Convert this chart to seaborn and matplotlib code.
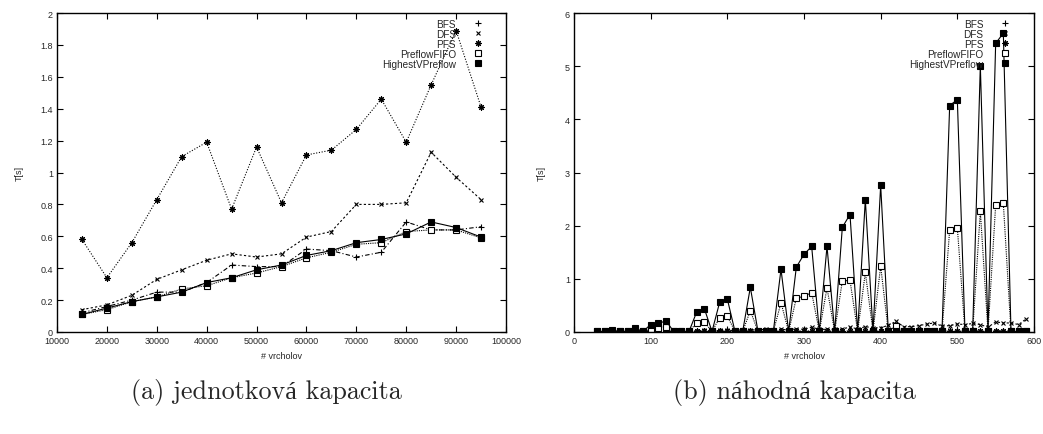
import numpy as np
import pandas as pd
import seaborn as sns
import matplotlib
matplotlib.use("Agg")
import matplotlib.pyplot as plt
from matplotlib.lines import Line2D

# (a) jednotkova kapacita
x_a = [15000, 20000, 25000, 30000, 35000, 40000, 45000, 50000, 55000,
       60000, 65000, 70000, 75000, 80000, 85000, 90000, 95000]
bfs_a = [0.12, 0.16, 0.20, 0.25, 0.25, 0.31, 0.42, 0.41, 0.41,
         0.52, 0.51, 0.47, 0.50, 0.69, 0.64, 0.64, 0.66]
dfs_a = [0.14, 0.17, 0.23, 0.33, 0.39, 0.45, 0.49, 0.47, 0.49,
         0.595, 0.63, 0.80, 0.80, 0.81, 1.127, 0.97, 0.83]
pfs_a = [0.58, 0.34, 0.56, 0.83, 1.10, 1.19, 0.77, 1.16, 0.81,
         1.11, 1.14, 1.27, 1.46, 1.19, 1.55, 1.89, 1.41]
fifo_a = [0.11, 0.14, 0.19, 0.22, 0.27, 0.29, 0.34, 0.37, 0.41,
          0.465, 0.50, 0.55, 0.56, 0.63, 0.64, 0.64, 0.59]
hvp_a = [0.11, 0.15, 0.19, 0.22, 0.25, 0.31, 0.34, 0.39, 0.42,
         0.48, 0.51, 0.56, 0.58, 0.615, 0.69, 0.655, 0.595]

# (b) nahodna kapacita
x_b = [30, 40, 50, 60, 70, 80, 90, 100, 110, 120, 130, 140, 150, 160, 170,
       180, 190, 200, 210, 220, 230, 240, 250, 260, 270, 280, 290, 300, 310,
       320, 330, 340, 350, 360, 370, 380, 390, 400, 410, 420, 430, 440, 450,
       460, 470, 480, 490, 500, 510, 520, 530, 540, 550, 560, 570, 580, 590]
bfs_b = [0.01, 0.01, 0.01, 0.01, 0.01, 0.01, 0.01,
         0.01, 0.01, 0.01, 0.01, 0.01, 0.01,
         0.01, 0.01, 0.01, 0.01, 0.01,
         0.01, 0.01, 0.01, 0.01, 0.01, 0.01,
         0.01, 0.01, 0.01, 0.01,
         0.01, 0.01, 0.01, 0.01, 0.01, 0.01, 0.01, 0.01, 0.01, 0.01,
         0.01, 0.02, 0.01, 0.01, 0.01, 0.01, 0.01, 0.01, 0.01, 0.01,
         0.01, 0.01, 0.01, 0.01, 0.02, 0.02, 0.01, 0.01, 0.01]
dfs_b = [0.01, 0.01, 0.01, 0.01, 0.01, 0.02, 0.01,
         0.02, 0.02, 0.03, 0.02, 0.02, 0.02,
         0.02, 0.03, 0.02, 0.03, 0.03,
         0.03, 0.04, 0.04, 0.04, 0.05, 0.04,
         0.05, 0.04, 0.06, 0.05,
         0.09, 0.05, 0.05, 0.05, 0.06, 0.09, 0.06, 0.10, 0.08, 0.08,
         0.125, 0.20, 0.10, 0.10, 0.12, 0.15, 0.17, 0.11, 0.12, 0.15,
         0.14, 0.16, 0.14, 0.09, 0.19, 0.17, 0.17, 0.14, 0.25]
pfs_b = [0.01, 0.01, 0.02, 0.01, 0.01, 0.02, 0.01,
         0.02, 0.02, 0.02, 0.01, 0.01, 0.01,
         0.02, 0.02, 0.01, 0.02, 0.02,
         0.01, 0.01, 0.02, 0.01, 0.01, 0.01,
         0.02, 0.01, 0.02, 0.02,
         0.02, 0.01, 0.02, 0.01, 0.02, 0.02, 0.01, 0.02, 0.01, 0.02,
         0.01, 0.03, 0.01, 0.01, 0.01, 0.01, 0.01, 0.01, 0.02, 0.02,
         0.01, 0.01, 0.02, 0.01, 0.02, 0.02, 0.01, 0.01, 0.01]
fifo_b = [0.01, 0.01, 0.02, 0.01, 0.01, 0.04, 0.01,
          0.05, 0.08, 0.10, 0.01, 0.01, 0.01,
          0.17, 0.19, 0.01, 0.27, 0.30,
          0.01, 0.01, 0.40, 0.01, 0.01, 0.01,
          0.55, 0.01, 0.64, 0.67,
          0.74, 0.01, 0.83, 0.01, 0.96, 0.97, 0.01, 1.12, 0.01, 1.24,
          0.01, 0.12, 0.01, 0.01, 0.01, 0.01, 0.01, 0.01, 1.92, 1.96,
          0.01, 0.01, 2.27, 0.01, 2.39, 2.42, 0.01, 0.01, 0.01]
hvp_b = [0.01, 0.01, 0.03, 0.01, 0.01, 0.07, 0.01,
         0.14, 0.16, 0.21, 0.01, 0.01, 0.01,
         0.375, 0.44, 0.01, 0.56, 0.62,
         0.01, 0.01, 0.84, 0.01, 0.01, 0.01,
         1.18, 0.01, 1.22, 1.46,
         1.61, 0.01, 1.61, 0.01, 1.97, 2.21, 0.01, 2.49, 0.01, 2.76,
         0.01, 0.01, 0.01, 0.01, 0.01, 0.01, 0.01, 0.01, 4.26, 4.37,
         0.01, 0.01, 5.01, 0.01, 5.43, 5.62, 0.01, 0.01, 0.01]

names = ["BFS", "DFS", "PFS", "PreflowFIFO", "HighestVPreflow"]

sns.set_style("ticks")
plt.rcParams["font.family"] = ["Liberation Sans", "DejaVu Sans"]
plt.rcParams["xtick.direction"] = "in"
plt.rcParams["ytick.direction"] = "in"

# gnuplot-ish line/point styles
styles = {
    "BFS": dict(ls=(0, (4, 2, 1, 2)), marker="+", ms=4.5, mfc="black"),
    "DFS": dict(ls=(0, (2, 2)), marker="x", ms=3.5, mfc="black"),
    "PFS": dict(ls=(0, (1, 1.5)), marker=(8, 2, 0), ms=4.5, mfc="black"),
    "PreflowFIFO": dict(ls=(0, (1, 1)), marker="s", ms=4, mfc="white"),
    "HighestVPreflow": dict(ls="-", marker="s", ms=4, mfc="black"),
}


def panel(ax, x, series):
    for name, y in zip(names, series):
        st = styles[name]
        df = pd.DataFrame({"x": x, "y": y})
        sns.lineplot(data=df, x="x", y="y", ax=ax, color="black", lw=0.8,
                     linestyle=st["ls"], marker=st["marker"], markersize=st["ms"],
                     markerfacecolor=st["mfc"], markeredgecolor="black",
                     markeredgewidth=0.8, legend=False)
    handles = [Line2D([], [], color="black", linestyle="none",
                      marker=styles[n]["marker"], markersize=styles[n]["ms"],
                      markerfacecolor=styles[n]["mfc"], markeredgecolor="black",
                      markeredgewidth=0.8) for n in names]
    ax.legend(handles, names, loc="upper right", frameon=False, markerfirst=False,
              fontsize=7.2, handlelength=0.8, handletextpad=1.8, labelspacing=0.0,
              borderaxespad=0, bbox_to_anchor=(0.955, 0.995))
    ax.set_xlabel("# vrcholov", fontsize=6.5, labelpad=4)
    ax.set_ylabel("T[s]", fontsize=6.5, labelpad=12)
    ax.tick_params(axis="both", which="both", labelsize=6.5, length=4, width=0.8,
                   top=True, right=True, pad=3, color="black")
    for sp in ax.spines.values():
        sp.set_linewidth(1.0)
        sp.set_color("black")


fig = plt.figure(figsize=(10.43, 4.35), dpi=100)
ax1 = fig.add_axes([57 / 1043, 1 - 333 / 435, 449 / 1043, 319 / 435])
ax2 = fig.add_axes([574 / 1043, 1 - 333 / 435, 460 / 1043, 319 / 435])

panel(ax1, x_a, [bfs_a, dfs_a, pfs_a, fifo_a, hvp_a])
ax1.set_xlim(10000, 100000)
ax1.set_ylim(0, 2)
ax1.set_xticks(np.arange(10000, 100001, 10000))
ax1.set_yticks([0, 0.2, 0.4, 0.6, 0.8, 1, 1.2, 1.4, 1.6, 1.8, 2])
ax1.set_yticklabels(["0", "0.2", "0.4", "0.6", "0.8", "1", "1.2", "1.4", "1.6", "1.8", "2"])

panel(ax2, x_b, [bfs_b, dfs_b, pfs_b, fifo_b, hvp_b])
ax2.set_xlim(0, 600)
ax2.set_ylim(0, 6)
ax2.set_xticks(np.arange(0, 601, 100))
ax2.set_yticks(np.arange(0, 7, 1))
ax2.yaxis.labelpad = 14

cap_font = ["cmr10", "Liberation Serif"]
fig.text(266 / 1043, 1 - 393 / 435, "(a) jednotková kapacita", ha="center", va="center",
         fontsize=18.8, family=cap_font)
fig.text(794 / 1043, 1 - 393 / 435, "(b) náhodná kapacita", ha="center", va="center",
         fontsize=18.8, family=cap_font)

fig.savefig("out.png", dpi=100)
